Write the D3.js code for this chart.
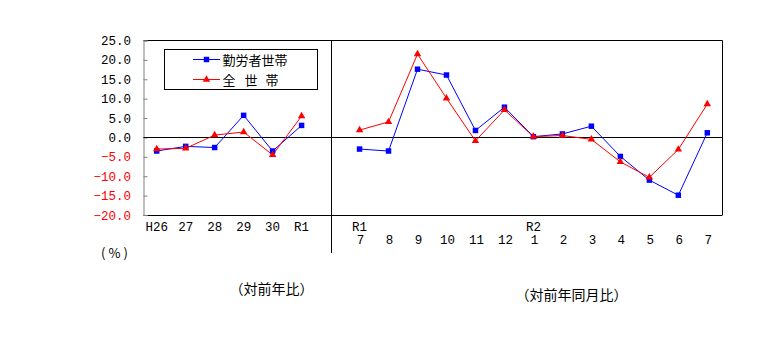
<!DOCTYPE html>
<html><head><meta charset="utf-8">
<script src="https://cdn.jsdelivr.net/npm/d3@7"></script>
<style>
html,body{margin:0;padding:0;background:#fff;}
svg{display:block;}
</style></head>
<body>
<script>
// ---- data ----
const topLabels    = ["H26","27","28","29","30","R1","","R1","","","","","","R2","","","","","",""];
const bottomLabels = ["","","","","","","","7","8","9","10","11","12","1","2","3","4","5","6","7"];
const workers   = [-3.5,-2.3,-2.6,5.7,-3.5,3.1,null,-3.0,-3.5,17.6,16.1,1.8,7.8,0.2,0.9,2.9,-4.9,-11.0,-14.9,1.2];
const allHouse  = [-3.0,-2.8,0.6,1.4,-4.5,5.5,null,1.9,4.0,21.5,10.1,-0.9,7.1,0.2,0.5,-0.5,-6.3,-10.3,-3.1,8.6];
const yTicks    = [25,20,15,10,5,0,-5,-10,-15,-20];
const seriesNames = ["勤労者世帯","全 世 帯"];

(function(){
const W=774,H=356;
const svg=d3.select("body").append("svg").attr("width",W).attr("height",H);

const pL=143.5, pR=722.5, pT=40.5, pB=215;
const x=d3.scalePoint().domain(d3.range(topLabels.length)).range([156.7,707.3]);
const y=d3.scaleLinear().domain([-20,25]).range([pB,pT]);

const numFont="'Liberation Mono','DejaVu Sans Mono',monospace";
const cjkFont="'Noto Sans CJK JP','Noto Sans CJK SC',sans-serif";

// frame
svg.append("line").attr("x1",pL).attr("x2",pR).attr("y1",pT).attr("y2",pT).attr("stroke","#000");
svg.append("line").attr("x1",pR).attr("x2",pR).attr("y1",pT).attr("y2",pB).attr("stroke","#000");
svg.append("line").attr("x1",pL).attr("x2",pR).attr("y1",pB+0.5).attr("y2",pB+0.5).attr("stroke","#000");

// y axis ticks (inside) and labels
const yg=svg.append("g").attr("transform",`translate(${pL},0)`)
  .call(d3.axisRight(y).tickValues(yTicks).tickSize(4).tickFormat(""));
yg.select(".domain").attr("stroke","#808080");
yg.selectAll(".tick line").attr("stroke","#808080");
const yl=svg.append("g").attr("transform",`translate(${pL},0)`)
  .call(d3.axisLeft(y).tickValues(yTicks).tickSize(0).tickPadding(12.5).tickFormat(d3.format(".1f")));
yl.select(".domain").remove();
yl.selectAll("text").attr("font-family",numFont).attr("font-size",12.5)
  .attr("fill",d=>d<0?"#ff0000":"#000");

// zero line
svg.append("line").attr("x1",pL).attr("x2",pR).attr("y1",Math.round(y(0))+0.5).attr("y2",Math.round(y(0))+0.5).attr("stroke","#000");

// divider
const dvx=Math.round(x(6))+0.5;
svg.append("line").attr("x1",dvx).attr("x2",dvx).attr("y1",pT).attr("y2",253).attr("stroke","#000");

// x labels
svg.append("g").selectAll("text").data(topLabels).join("text")
  .attr("x",(d,i)=>x(i)).attr("y",231).attr("text-anchor","middle")
  .attr("font-family",numFont).attr("font-size",12.5).text(d=>d);
svg.append("g").selectAll("text").data(bottomLabels).join("text")
  .attr("x",(d,i)=>x(i)+1).attr("y",243.5).attr("text-anchor","middle")
  .attr("font-family",numFont).attr("font-size",12.5).text(d=>d);

// series
const line=d3.line().defined(d=>d!=null).x((d,i)=>x(i)).y(d=>y(d));
const series=[{v:workers,c:"#0000ff",s:d3.symbolSquare,sz:30},{v:allHouse,c:"#ff0000",s:d3.symbolTriangle,sz:24}];
series.forEach(sr=>{
  svg.append("path").datum(sr.v).attr("d",line).attr("fill","none").attr("stroke",sr.c).attr("stroke-width",1);
});
series.forEach(sr=>{
  svg.append("g").selectAll("path").data(sr.v.map((v,i)=>({v,i})).filter(d=>d.v!=null)).join("path")
    .attr("transform",d=>`translate(${x(d.i)},${y(d.v)})`)
    .attr("d",d3.symbol().type(sr.s).size(sr.sz)).attr("fill",sr.c);
});

// legend
svg.append("rect").attr("x",164.5).attr("y",49.5).attr("width",153).attr("height",40).attr("fill","#fff").attr("stroke","#000");
const legY=[59.5,79.5];
series.forEach((sr,k)=>{
  svg.append("line").attr("x1",193).attr("x2",220).attr("y1",legY[k]).attr("y2",legY[k]).attr("stroke",sr.c);
  svg.append("path").attr("transform",`translate(206.5,${legY[k]})`).attr("d",d3.symbol().type(sr.s).size(sr.sz)).attr("fill",sr.c);
});
svg.append("text").attr("x",222.5).attr("y",64.5).attr("font-family",cjkFont).attr("font-size",13).text(seriesNames[0]);
const t2=svg.append("text").attr("y",84.5).attr("font-family",cjkFont).attr("font-size",13);
const parts=seriesNames[1].split(" "), px=[222.5,244.5,265.5];
parts.forEach((p,k)=>t2.append("tspan").attr("x",px[k]).text(p+(k<parts.length-1?" ":"")));

// unit & captions
svg.append("text").attr("x",116).attr("y",258).attr("text-anchor","middle").attr("font-family",cjkFont).attr("font-size",13).attr("letter-spacing",3).text("(%)");
svg.append("text").attr("x",271.5).attr("y",294).attr("text-anchor","middle").attr("font-family",cjkFont).attr("font-size",14).text("（対前年比）");
svg.append("text").attr("x",571.5).attr("y",300).attr("text-anchor","middle").attr("font-family",cjkFont).attr("font-size",14).text("（対前年同月比）");
})();
</script>
</body></html>
